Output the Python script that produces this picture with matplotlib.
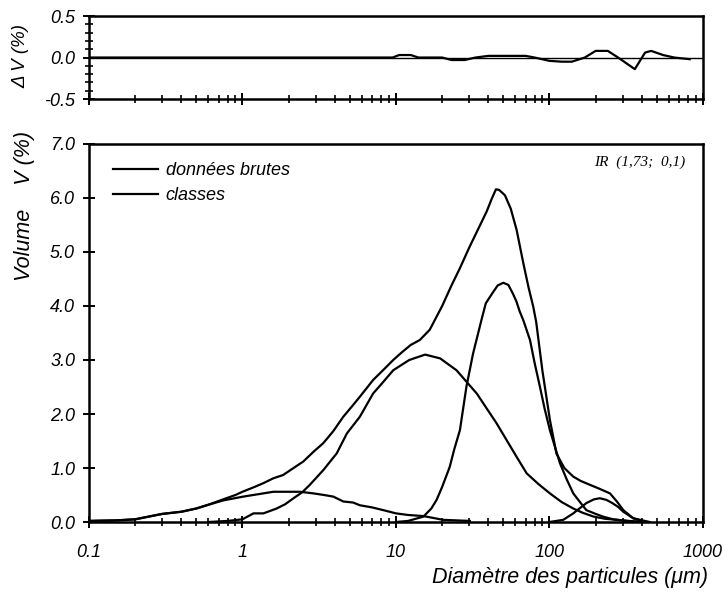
import matplotlib
matplotlib.use("Agg")
import matplotlib.pyplot as plt
from matplotlib.ticker import LogLocator, FixedLocator, FuncFormatter, NullFormatter, MultipleLocator

# raw data (sum curve)
raw_x = [0.1, 0.15, 0.2, 0.3, 0.4, 0.5, 0.6, 0.75, 0.9, 1.0, 1.2, 1.37, 1.59, 1.84,
         2.1, 2.49, 2.9, 3.36, 3.9, 4.54, 5.2, 5.82, 7.1, 8.3, 9.6, 11, 12.5, 14.3,
         16.6, 20, 23, 26.1, 30, 34, 39, 42, 44.8, 47, 51.3, 56, 61.1, 67.5, 73,
         78.4, 82, 90, 100.7, 111, 125, 143, 160, 183, 210, 248, 275, 303, 351, 419, 450]
raw_v = [0.02, 0.03, 0.05, 0.15, 0.19, 0.25, 0.32, 0.42, 0.50, 0.56, 0.65, 0.72, 0.81, 0.87,
         0.98, 1.12, 1.30, 1.46, 1.68, 1.95, 2.15, 2.32, 2.63, 2.82, 3.0, 3.15, 3.28, 3.37,
         3.56, 4.0, 4.38, 4.70, 5.08, 5.40, 5.75, 5.98, 6.16, 6.15, 6.05, 5.8, 5.41, 4.80, 4.35,
         3.99, 3.7, 2.8, 1.89, 1.27, 1.0, 0.84, 0.76, 0.69, 0.62, 0.53, 0.38, 0.22, 0.07, 0.02, 0.0]

# classes
c1_x = [0.1, 0.15, 0.2, 0.3, 0.4, 0.5, 0.6, 0.75, 1.01, 1.3, 1.59, 2.0, 2.37, 2.9, 3.4,
        3.91, 4.54, 5.27, 5.82, 7.0, 8.26, 10, 12, 15.1, 20.3, 30.3]
c1_v = [0.02, 0.03, 0.05, 0.15, 0.19, 0.25, 0.32, 0.40, 0.47, 0.52, 0.56, 0.56, 0.56, 0.53, 0.50,
        0.47, 0.38, 0.36, 0.31, 0.27, 0.22, 0.16, 0.13, 0.11, 0.04, 0.02]

c2_x = [0.6, 0.8, 1.0, 1.18, 1.37, 1.67, 1.9, 2.15, 2.45, 2.75, 3.36, 4.11, 4.79, 5.82, 7.1,
        8.3, 9.6, 12.2, 15.5, 19.4, 24.8, 33.6, 45.2, 61, 71.1, 85, 100.7, 120, 143, 165,
        194, 230, 276, 330, 400]
c2_v = [0.0, 0.02, 0.05, 0.16, 0.16, 0.25, 0.33, 0.44, 0.55, 0.69, 0.96, 1.27, 1.64, 1.95, 2.38,
        2.6, 2.81, 3.0, 3.10, 3.03, 2.81, 2.38, 1.83, 1.21, 0.90, 0.70, 0.53, 0.37, 0.25, 0.17,
        0.10, 0.06, 0.04, 0.02, 0.0]

c3_x = [10, 12, 15.1, 17, 18.4, 20, 22.4, 24, 26.1, 28.8, 31.8, 34, 36.5, 38.5, 43, 46, 50,
        54, 58, 61, 64, 67.5, 74.7, 80, 86.6, 93, 100.7, 117, 130, 143, 160, 174, 200, 223,
        260, 317, 400]
c3_v = [0.0, 0.02, 0.10, 0.25, 0.41, 0.65, 1.02, 1.35, 1.70, 2.51, 3.12, 3.45, 3.8, 4.05, 4.26,
        4.38, 4.43, 4.39, 4.22, 4.08, 3.9, 3.74, 3.37, 2.95, 2.51, 2.1, 1.70, 1.09, 0.78, 0.53,
        0.35, 0.22, 0.15, 0.10, 0.05, 0.02, 0.0]

c4_x = [100, 123, 143, 160, 174, 195, 213, 235, 257, 280, 303, 351, 420]
c4_v = [0.0, 0.04, 0.16, 0.27, 0.35, 0.42, 0.44, 0.41, 0.35, 0.28, 0.19, 0.07, 0.0]

# residual
res_x = [0.1, 1, 5, 9.5, 10.5, 12.5, 14, 20, 23, 28, 33, 40, 45, 70, 80, 100, 120, 140,
         170, 200, 240, 280, 360, 420, 460, 550, 650, 820]
res_v = [0, 0, 0, 0, 0.03, 0.03, 0, 0, -0.03, -0.03, 0, 0.02, 0.02, 0.02, 0, -0.04, -0.05,
         -0.05, 0, 0.08, 0.08, 0, -0.14, 0.06, 0.08, 0.03, 0.0, -0.02]

x_ticks = [0.1, 1, 10, 100, 1000]
x_tick_labels = ["0.1", "1", "10", "100", "1000"]

plt.rcParams["font.family"] = ["Liberation Sans", "DejaVu Sans"]
plt.rcParams["font.style"] = "italic"

fig = plt.figure(figsize=(7.24, 5.94), dpi=100)
ax1 = fig.add_axes([0.1229, 0.8333, 0.848, 0.1397])
ax2 = fig.add_axes([0.1229, 0.1212, 0.848, 0.6364])

lw = 1.6

# top panel
ax1.axhline(0, color="black", lw=1.0)
ax1.plot(res_x, res_v, color="black", lw=lw)
ax1.set_xscale("log")
ax1.set_xlim(0.1, 1000)
ax1.set_ylim(-0.5, 0.5)
ax1.yaxis.set_major_locator(FixedLocator([-0.5, 0.0, 0.5]))
ax1.yaxis.set_minor_locator(MultipleLocator(0.1))
ax1.yaxis.set_major_formatter(FuncFormatter(lambda v, p: "%.1f" % v))
ax1.xaxis.set_major_formatter(NullFormatter())
ax1.xaxis.set_minor_formatter(NullFormatter())

# bottom panel
ax2.plot(raw_x, raw_v, color="black", lw=lw, label="données brutes")
ax2.plot(c1_x, c1_v, color="black", lw=lw, label="classes")
ax2.plot(c2_x, c2_v, color="black", lw=lw)
ax2.plot(c3_x, c3_v, color="black", lw=lw)
ax2.plot(c4_x, c4_v, color="black", lw=lw)
ax2.set_xscale("log")
ax2.set_xlim(0.1, 1000)
ax2.set_ylim(0, 7)
ax2.yaxis.set_major_locator(MultipleLocator(1.0))
ax2.yaxis.set_major_formatter(FuncFormatter(lambda v, p: "%.1f" % v))
ax2.set_xticks(x_ticks)
ax2.set_xticklabels(x_tick_labels)
ax2.xaxis.set_minor_formatter(NullFormatter())

for ax in (ax1, ax2):
    ax.xaxis.set_minor_locator(LogLocator(base=10, subs=range(2, 10), numticks=20))
    for s in ax.spines.values():
        s.set_linewidth(1.8)
    ax.tick_params(axis="both", which="major", direction="inout", length=8, width=1.4,
                   labelsize=13)
    ax.tick_params(axis="both", which="minor", direction="inout", length=6, width=1.2)
    ax.tick_params(axis="x", pad=12)
    ax.tick_params(axis="y", pad=6)

ax2.legend(loc="upper left", bbox_to_anchor=(0.01, 1.0), frameon=False, fontsize=13,
           handlelength=2.5, handletextpad=0.4, labelspacing=0.45, borderaxespad=0.6)

ax2.text(0.971, 0.952, "IR  (1,73;  0,1)", transform=ax2.transAxes, ha="right", va="center",
         fontsize=11, family=["Liberation Serif", "DejaVu Serif"], style="italic")

fig.text(21 / 724, 1 - 56 / 594, "Δ V (%)", rotation=90, ha="center", va="center",
         fontsize=13.5)
fig.text(25 / 724, 1 - 206 / 594, "Volume    V (%)", rotation=90, ha="center",
         va="center", fontsize=15.5)
fig.text(708 / 724, 1 - 578 / 594, "Diamètre des particules (μm)", ha="right",
         va="center", fontsize=15.5)

fig.savefig("out.png", dpi=100)
